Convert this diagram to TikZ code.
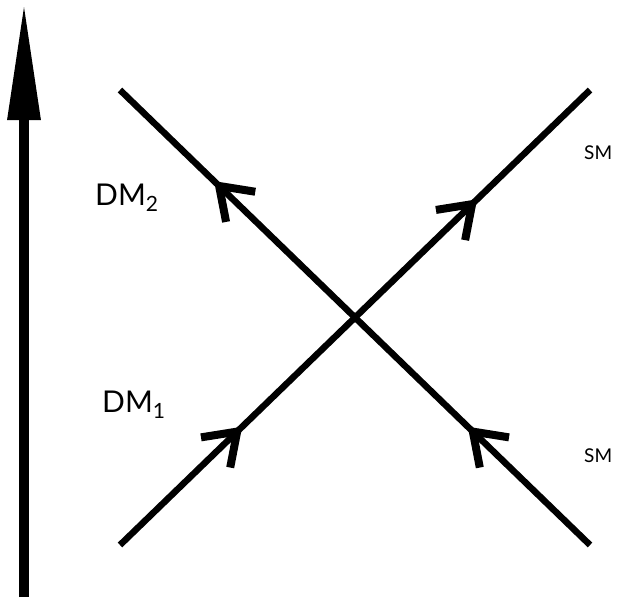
\documentclass[tikz,border=0pt]{standalone}
\usepackage{fontspec}
\setmainfont{Lato}
\usetikzlibrary{arrows.meta,decorations.markings}

\tikzset{
  barb/.tip={Straight Barb[length=30pt,width=42pt,line width=8pt,line cap=butt,line join=miter]},
  leg/.style={line width=6.5pt, postaction={decorate}, decoration={markings,
      mark=at position 0.26 with {\arrow{barb}},
      mark=at position #1 with {\arrow{barb}}}},
  dmlabel/.style={anchor=base west, inner sep=0pt, font=\fontsize{30}{36}\selectfont},
  smlabel/.style={anchor=base west, inner sep=0pt, font=\fontsize{19}{22}\selectfont}
}

\begin{document}
\begin{tikzpicture}[x=1pt, y=-1pt]
  \useasboundingbox (0,0) rectangle (620,597);
  % time axis
  \coordinate (tbot) at (24,597);
  \coordinate (ttop) at (24,3);
  \draw[line width=9.5pt, -{Triangle[length=117pt,width=31pt]}] (tbot) -- (ttop);
  % the four legs
  \coordinate (dmin) at (120,545);
  \coordinate (smout) at (590,90);
  \coordinate (smin) at (590,545);
  \coordinate (dmout) at (120,90);
  \draw[leg=0.76] (dmin) -- (smout);
  \draw[leg=0.80] (smin) -- (dmout);
  % labels
  \node[dmlabel] (dmtwo) at (95,205) {DM\textsubscript{2}};
  \node[dmlabel] (dmone) at (102,412) {DM\textsubscript{1}};
  \node[smlabel] (smtop) at (584,159) {SM};
  \node[smlabel] (smbot) at (584,462) {SM};
\end{tikzpicture}
\end{document}
